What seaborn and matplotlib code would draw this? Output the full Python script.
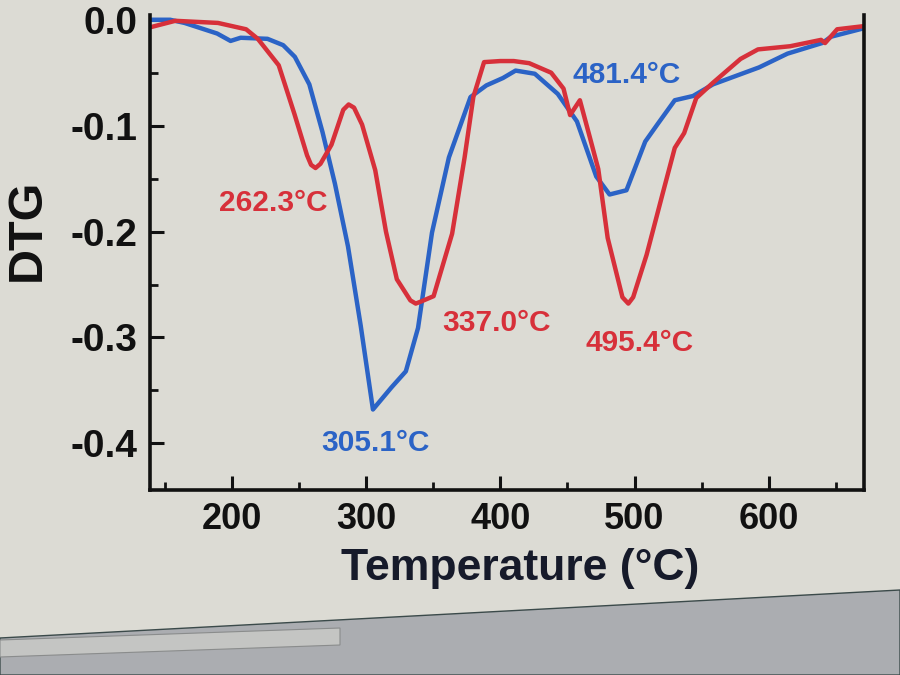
import numpy as np
import pandas as pd
import matplotlib
matplotlib.use("Agg")
import matplotlib.pyplot as plt
from matplotlib.patches import Polygon
from matplotlib.ticker import MultipleLocator
import seaborn as sns

# Data
blue_temp = [139, 154, 164.7, 189, 199, 206.5, 226.5, 238.2, 246.9, 257.7, 267.5,
             276.8, 286.5, 296, 305.1, 319, 329.6, 338.7, 349.1, 361.7, 377.8,
             389.6, 402, 411.4, 425.7, 442.8, 457.1, 471.5, 481.4, 494, 508,
             517.5, 530, 543.6, 558.5, 592.8, 614, 639.8, 646.5, 671]
blue_dtg = [0.0, 0.0, -0.003, -0.013, -0.020, -0.017, -0.018, -0.024, -0.035, -0.061,
            -0.106, -0.155, -0.214, -0.289, -0.368, -0.347, -0.332, -0.291, -0.201,
            -0.130, -0.073, -0.062, -0.055, -0.048, -0.051, -0.070, -0.096, -0.148,
            -0.165, -0.161, -0.115, -0.098, -0.076, -0.072, -0.061, -0.045, -0.032,
            -0.022, -0.016, -0.008]

red_temp = [139.5, 157.8, 189.6, 210.6, 219.3, 234.9, 246.6, 256, 259, 262.3, 266,
            274.2, 283, 287, 291, 297, 306.8, 314.8, 322.9, 333, 337, 341, 350.3,
            364.1, 373.4, 379.9, 387.9, 400, 410, 421.5, 437.9, 447.1, 452, 459.3,
            466.5, 473, 480, 491, 495.4, 499, 509, 521, 530, 537, 546, 558, 579,
            592, 616, 639, 642, 651, 671]
red_dtg = [-0.007, -0.001, -0.003, -0.009, -0.018, -0.043, -0.089, -0.128, -0.137,
           -0.140, -0.136, -0.118, -0.085, -0.080, -0.083, -0.099, -0.142, -0.200,
           -0.245, -0.265, -0.268, -0.266, -0.261, -0.202, -0.130, -0.073, -0.040,
           -0.039, -0.039, -0.041, -0.050, -0.065, -0.090, -0.076, -0.110, -0.141,
           -0.206, -0.262, -0.268, -0.262, -0.222, -0.164, -0.121, -0.107, -0.074,
           -0.060, -0.037, -0.028, -0.025, -0.019, -0.022, -0.009, -0.006]

peak_labels = ["262.3°C", "305.1°C", "337.0°C", "495.4°C", "481.4°C"]
label_x = [231, 307, 397, 504, 494]
label_y = [-0.173, -0.400, -0.286, -0.305, -0.052]
label_series = ["red", "blue", "red", "red", "blue"]

blue = "#2b63c6"
red = "#d7303a"
screen = "#dcdbd4"

df = pd.concat([
    pd.DataFrame({"T": blue_temp, "DTG": blue_dtg, "s": "blue"}),
    pd.DataFrame({"T": red_temp, "DTG": red_dtg, "s": "red"}),
])

sns.set_theme(style="ticks")
plt.rcParams["font.family"] = ["Liberation Sans", "DejaVu Sans"]
plt.rcParams["font.weight"] = "bold"

fig = plt.figure(figsize=(9, 6.75), dpi=100, facecolor=screen)
ax = fig.add_axes([0.1667, 0.2741, 0.7933, 0.7037])
ax.set_facecolor(screen)

# monitor bezel at the bottom of the photo
fig.patches.append(Polygon([[0, 1 - 638 / 675], [1, 1 - 590 / 675], [1, 0], [0, 0]],
                           closed=True, transform=fig.transFigure,
                           facecolor="#abadb1", edgecolor="#3b4a4a", lw=1, zorder=0))
fig.patches.append(Polygon([[0, 1 - 640 / 675], [340 / 900, 1 - 628 / 675],
                            [340 / 900, 1 - 645 / 675], [0, 1 - 657 / 675]],
                           closed=True, transform=fig.transFigure,
                           facecolor="#c4c5c3", edgecolor="#8a8c8c", lw=0.8, zorder=0))

sns.lineplot(data=df, x="T", y="DTG", hue="s", palette={"blue": blue, "red": red},
             sort=False, estimator=None, linewidth=3.2, legend=False, ax=ax)

for txt, x, y, s in zip(peak_labels, label_x, label_y, label_series):
    ax.text(x, y, txt, color=blue if s == "blue" else red, fontsize=21.5,
            fontweight="bold", ha="center", va="center")

ax.set_xlim(139, 671)
ax.set_ylim(-0.444, 0.0045)
ax.xaxis.set_minor_locator(MultipleLocator(50))
ax.yaxis.set_minor_locator(MultipleLocator(0.05))
ax.set_xticks([200, 300, 400, 500, 600])
ax.set_yticks([0.0, -0.1, -0.2, -0.3, -0.4])
ax.set_yticklabels(["0.0", "-0.1", "-0.2", "-0.3", "-0.4"])
ax.tick_params(which="major", direction="in", length=10, width=2.2, pad=9,
               colors="#111111")
ax.tick_params(axis="y", which="major", labelsize=28)
ax.tick_params(axis="x", which="major", labelsize=26)
ax.tick_params(which="minor", direction="in", length=6, width=2, colors="#111111")
for lab in ax.get_xticklabels() + ax.get_yticklabels():
    lab.set_fontweight("bold")

for side in ["left", "right", "bottom"]:
    ax.spines[side].set_linewidth(2.6)
    ax.spines[side].set_color("#111111")
ax.spines["top"].set_visible(False)

ax.set_xlabel("Temperature (°C)", fontsize=32, fontweight="bold", color="#161a2a")
ax.set_ylabel("DTG", fontsize=35, fontweight="bold", color="#111111")
ax.xaxis.set_label_coords(0.518, -0.122)
ax.yaxis.set_label_coords(-0.14, 0.547)

fig.savefig("out.png", dpi=100, facecolor=screen)
print("Graph saved to out.png")
